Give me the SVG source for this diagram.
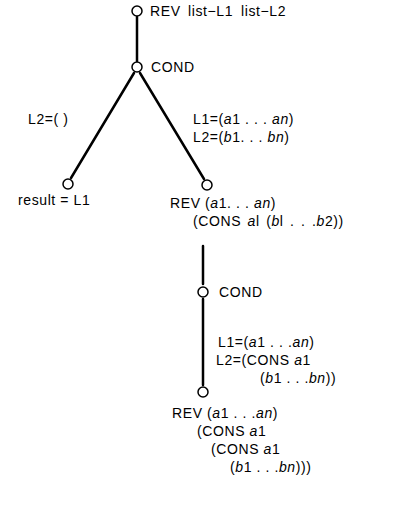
<svg xmlns="http://www.w3.org/2000/svg" width="419" height="514" viewBox="0 0 419 514">
<style>
text{font-family:"Liberation Sans","DejaVu Sans",sans-serif;font-size:14px;letter-spacing:0.6px;fill:#000}
.i{font-style:italic}
.w{word-spacing:2px}
.n circle{fill:#fff;stroke:#000;stroke-width:1.5}
.e line{stroke:#000;stroke-width:2.5;stroke-linecap:round}
</style>
<rect width="419" height="514" fill="#fff"/>
<g id="connectors" class="e">
<line x1="137" y1="17" x2="137" y2="61"/>
<line x1="134" y1="73" x2="71" y2="178"/>
<line x1="140" y1="73" x2="204" y2="179"/>
<line x1="203" y1="246" x2="203" y2="284"/>
<line x1="203" y1="299" x2="203" y2="385"/>
</g>
<g id="labels">
<text x="28" y="124">L2=( )</text>
<text x="193" y="124">L1=(<tspan class="i">a</tspan>1 . . . <tspan class="i">an</tspan>)</text>
<text x="193" y="142">L2=(<tspan class="i">b</tspan>1. . . <tspan class="i">bn</tspan>)</text>
<text x="218" y="347">L1=(<tspan class="i">a</tspan>1 . . .<tspan class="i">an</tspan>)</text>
<text x="216" y="365">L2=(CONS <tspan class="i">a</tspan>1</text>
<text x="260" y="383">(<tspan class="i">b</tspan>1 . . .<tspan class="i">bn</tspan>))</text>
</g>
<g id="n-rev0" class="n">
<circle cx="137" cy="11" r="5"/>
<text x="150" y="16">REV</text>
<text x="188" y="16">list−L1</text>
<text x="241" y="16">list−L2</text>
</g>
<g id="n-cond1" class="n">
<circle cx="137" cy="67" r="5"/>
<text x="151" y="72">COND</text>
</g>
<g id="n-result" class="n">
<circle cx="68" cy="184" r="5"/>
<text x="18" y="205">result = L1</text>
</g>
<g id="n-rev1" class="n">
<circle cx="207" cy="185" r="5"/>
<text x="170" y="208">REV (<tspan class="i">a</tspan>1. . . <tspan class="i">an</tspan>)</text>
<text class="w" x="193" y="226">(CONS <tspan class="i">a</tspan>l (<tspan class="i">b</tspan>l . . .<tspan class="i">b</tspan>2))</text>
</g>
<g id="n-cond2" class="n">
<circle cx="203" cy="292" r="5"/>
<text x="219" y="297">COND</text>
</g>
<g id="n-rev2" class="n">
<circle cx="203" cy="392" r="5"/>
<text x="172" y="418">REV (<tspan class="i">a</tspan>1 . . .<tspan class="i">an</tspan>)</text>
<text x="197" y="436">(CONS <tspan class="i">a</tspan>1</text>
<text x="211" y="454">(CONS <tspan class="i">a</tspan>1</text>
<text x="230" y="472">(<tspan class="i">b</tspan>1 . . .<tspan class="i">bn</tspan>)))</text>
</g>
</svg>
